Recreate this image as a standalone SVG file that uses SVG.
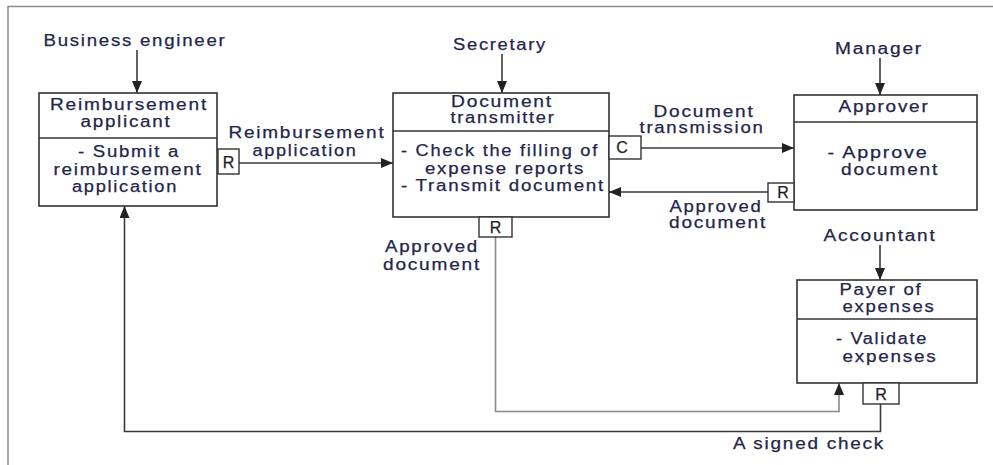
<svg xmlns="http://www.w3.org/2000/svg" width="993" height="465" viewBox="0 0 993 465">
<style>
  text { font-family: "Liberation Sans", Arial, sans-serif; font-size: 16px; fill: #24264a; stroke: #24264a; stroke-width: 0.25; text-anchor: middle; letter-spacing: 1.5px; }
  .box { fill: #ffffff; stroke: #333333; stroke-width: 1.6; }
  .div { stroke: #333333; stroke-width: 1.4; }
  .tag { fill: #ffffff; stroke: #333333; stroke-width: 1.4; }
  text.tagt { fill: #222222; stroke: #222222; letter-spacing: 0; }
  .con { fill: none; stroke: #3a3a3a; stroke-width: 1.6; }
  .light { stroke: #8a8a8a; }
  .frame { fill: none; stroke: #8c8c8c; stroke-width: 1.5; }
</style>
<defs>
  <marker id="ah" viewBox="0 0 12 10" refX="12" refY="5" markerWidth="12" markerHeight="10" markerUnits="userSpaceOnUse" orient="auto">
    <path d="M0,0 L12,5 L0,10 Z" fill="#222222"/>
  </marker>
</defs>
<rect width="993" height="465" fill="#ffffff"/>
<g id="frame">
  <path class="frame" d="M8,465 V6.5 H993"/>
</g>

<g id="connectors">
  <line class="con" x1="137" y1="50" x2="137" y2="93" marker-end="url(#ah)"/>
  <line class="con" x1="502" y1="54" x2="502" y2="93" marker-end="url(#ah)"/>
  <line class="con" x1="880" y1="58" x2="880" y2="95" marker-end="url(#ah)"/>
  <line class="con" x1="880" y1="245" x2="880" y2="280" marker-end="url(#ah)"/>
  <line class="con" x1="239" y1="163" x2="393" y2="163" marker-end="url(#ah)"/>
  <line class="con" x1="641" y1="148" x2="794" y2="148" marker-end="url(#ah)"/>
  <line class="con" x1="768" y1="192" x2="609" y2="192" marker-end="url(#ah)"/>
  <path class="con light" d="M495.5,237 V411.5 H839 V383" marker-end="url(#ah)"/>
  <path class="con" d="M880.5,404 V431.5 H124.5 V206" marker-end="url(#ah)"/>
  <text x="432" y="252" textLength="94" lengthAdjust="spacingAndGlyphs">Approved</text>
  <text x="432" y="270" textLength="98" lengthAdjust="spacingAndGlyphs">document</text>
  <text x="307" y="138" textLength="157" lengthAdjust="spacingAndGlyphs">Reimbursement</text>
  <text x="305" y="156" textLength="105" lengthAdjust="spacingAndGlyphs">application</text>
  <text x="704" y="117" textLength="101" lengthAdjust="spacingAndGlyphs">Document</text>
  <text x="702" y="133" textLength="125" lengthAdjust="spacingAndGlyphs">transmission</text>
  <text x="716" y="212" textLength="93" lengthAdjust="spacingAndGlyphs">Approved</text>
  <text x="718" y="228" textLength="98" lengthAdjust="spacingAndGlyphs">document</text>
  <text x="809" y="449" textLength="152" lengthAdjust="spacingAndGlyphs">A signed check</text>
</g>

<g id="actor-business-engineer">
  <text x="135" y="46" textLength="183" lengthAdjust="spacingAndGlyphs">Business engineer</text>
</g>
<g id="actor-secretary">
  <text x="500" y="50" textLength="94" lengthAdjust="spacingAndGlyphs">Secretary</text>
</g>
<g id="actor-manager">
  <text x="879" y="54" textLength="88" lengthAdjust="spacingAndGlyphs">Manager</text>
</g>
<g id="actor-accountant">
  <text x="880" y="241" textLength="113" lengthAdjust="spacingAndGlyphs">Accountant</text>
</g>

<g id="reimbursement-applicant">
  <rect class="box" x="39" y="93" width="178" height="113"/>
  <line class="div" x1="39" y1="138" x2="217" y2="138"/>
  <text x="129" y="110" textLength="158" lengthAdjust="spacingAndGlyphs">Reimbursement</text>
  <text x="126" y="127" textLength="91" lengthAdjust="spacingAndGlyphs">applicant</text>
  <text x="129" y="157" textLength="102" lengthAdjust="spacingAndGlyphs">- Submit a</text>
  <text x="128" y="175" textLength="149" lengthAdjust="spacingAndGlyphs">reimbursement</text>
  <text x="125" y="192" textLength="106" lengthAdjust="spacingAndGlyphs">application</text>
  <rect class="tag" x="218" y="149" width="21" height="25"/>
  <text class="tagt" x="228.5" y="167.5">R</text>
</g>

<g id="document-transmitter">
  <rect class="box" x="393" y="93" width="216" height="124"/>
  <line class="div" x1="393" y1="131" x2="609" y2="131"/>
  <text x="502" y="107" textLength="102" lengthAdjust="spacingAndGlyphs">Document</text>
  <text x="503" y="123" textLength="105" lengthAdjust="spacingAndGlyphs">transmitter</text>
  <text x="500" y="156" textLength="198" lengthAdjust="spacingAndGlyphs">- Check the filling of</text>
  <text x="505" y="174" textLength="160" lengthAdjust="spacingAndGlyphs">expense reports</text>
  <text x="503" y="191" textLength="204" lengthAdjust="spacingAndGlyphs">- Transmit document</text>
  <rect class="tag" x="609" y="136" width="32" height="23"/>
  <text class="tagt" x="622" y="153">C</text>
  <rect class="tag" x="479" y="217" width="33" height="20"/>
  <text class="tagt" x="495.5" y="233">R</text>
</g>

<g id="approver">
  <rect class="box" x="794" y="95" width="183" height="115"/>
  <line class="div" x1="794" y1="122" x2="977" y2="122"/>
  <text x="884" y="112" textLength="91" lengthAdjust="spacingAndGlyphs">Approver</text>
  <text x="878" y="158" textLength="101" lengthAdjust="spacingAndGlyphs">-  Approve</text>
  <text x="890" y="175" textLength="98" lengthAdjust="spacingAndGlyphs">document</text>
  <rect class="tag" x="768" y="183" width="26" height="19"/>
  <text class="tagt" x="783" y="198">R</text>
</g>

<g id="payer-of-expenses">
  <rect class="box" x="797" y="280" width="180" height="103"/>
  <line class="div" x1="797" y1="319" x2="977" y2="319"/>
  <text x="881" y="295" textLength="83" lengthAdjust="spacingAndGlyphs">Payer of</text>
  <text x="889" y="312" textLength="93" lengthAdjust="spacingAndGlyphs">expenses</text>
  <text x="882" y="344" textLength="92" lengthAdjust="spacingAndGlyphs">- Validate</text>
  <text x="890" y="362" textLength="95" lengthAdjust="spacingAndGlyphs">expenses</text>
  <rect class="tag" x="863" y="383" width="36" height="21"/>
  <text class="tagt" x="881" y="399.5">R</text>
</g>
</svg>
